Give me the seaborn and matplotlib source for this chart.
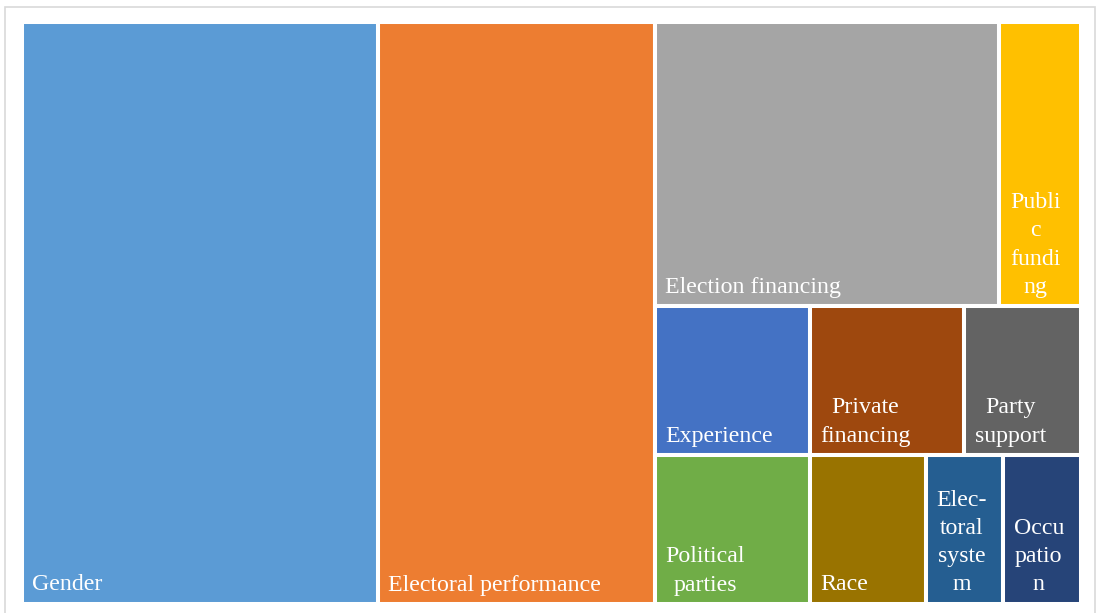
import matplotlib
matplotlib.use('Agg')
import matplotlib.pyplot as plt
from matplotlib.patches import Rectangle
import seaborn as sns

# -----------------------------------------------
# Data
# -----------------------------------------------

topics = ['Gender', 'Electoral performance', 'Election financing', 'Public funding',
          'Experience', 'Private financing', 'Party support',
          'Political parties', 'Race', 'Electoral system', 'Occupation']
counts = [36, 28, 17, 4, 4, 4, 3, 4, 3, 2, 2]
# labels as wrapped in the original
label_text = ['Gender', 'Electoral performance', 'Election financing', 'Publi\nc\nfundi\nng',
              'Experience', 'Private\nfinancing', 'Party\nsupport',
              'Political\nparties', 'Race', 'Elec-\ntoral\nsyste\nm', 'Occu\npatio\nn']
colors = ['#5B9BD5', '#ED7D31', '#A5A5A5', '#FFC000',
          '#4472C4', '#9E480E', '#636363',
          '#70AD47', '#997300', '#255E91', '#264478']

# columns -> rows -> topic indices
layout = [[[0]], [[1]], [[2, 3], [4, 5, 6], [7, 8, 9, 10]]]

# -----------------------------------------------
# Plot
# -----------------------------------------------

sns.set_style('white')
W, H = 1096, 613
fig = plt.figure(figsize=(W / 100, H / 100), dpi=100)

# light outer frame
fig.patches.append(Rectangle((5 / W, -0.05), 1090 / W, 1 - 7 / H + 0.05,
                             transform=fig.transFigure, fill=False,
                             edgecolor='#D9D9D9', linewidth=1.2))

ax = fig.add_axes([21.5 / W, 9 / H, 1059 / W, 582 / H])
ax.set_xlim(0, 1)
ax.set_ylim(0, 1)
ax.axis('off')

total = sum(counts)
x0 = 0
for col in layout:
    col_sum = sum(counts[i] for row in col for i in row)
    cw = col_sum / total
    y_top = 1
    for row in col:
        row_sum = sum(counts[i] for i in row)
        rh = row_sum / col_sum
        x = x0
        for i in row:
            w = cw * counts[i] / row_sum
            ax.add_patch(Rectangle((x, y_top - rh), w, rh, facecolor=colors[i],
                                   edgecolor='white', linewidth=2.9))
            ax.annotate(label_text[i], xy=(x, y_top - rh), xytext=(10.5, 8.5),
                        textcoords='offset pixels', ha='left', va='bottom',
                        multialignment='center', color='white',
                        fontfamily='Liberation Serif', fontsize=17.2,
                        linespacing=1.45)
            x += w
        y_top -= rh
    x0 += cw

fig.savefig('out.png', dpi=100)
